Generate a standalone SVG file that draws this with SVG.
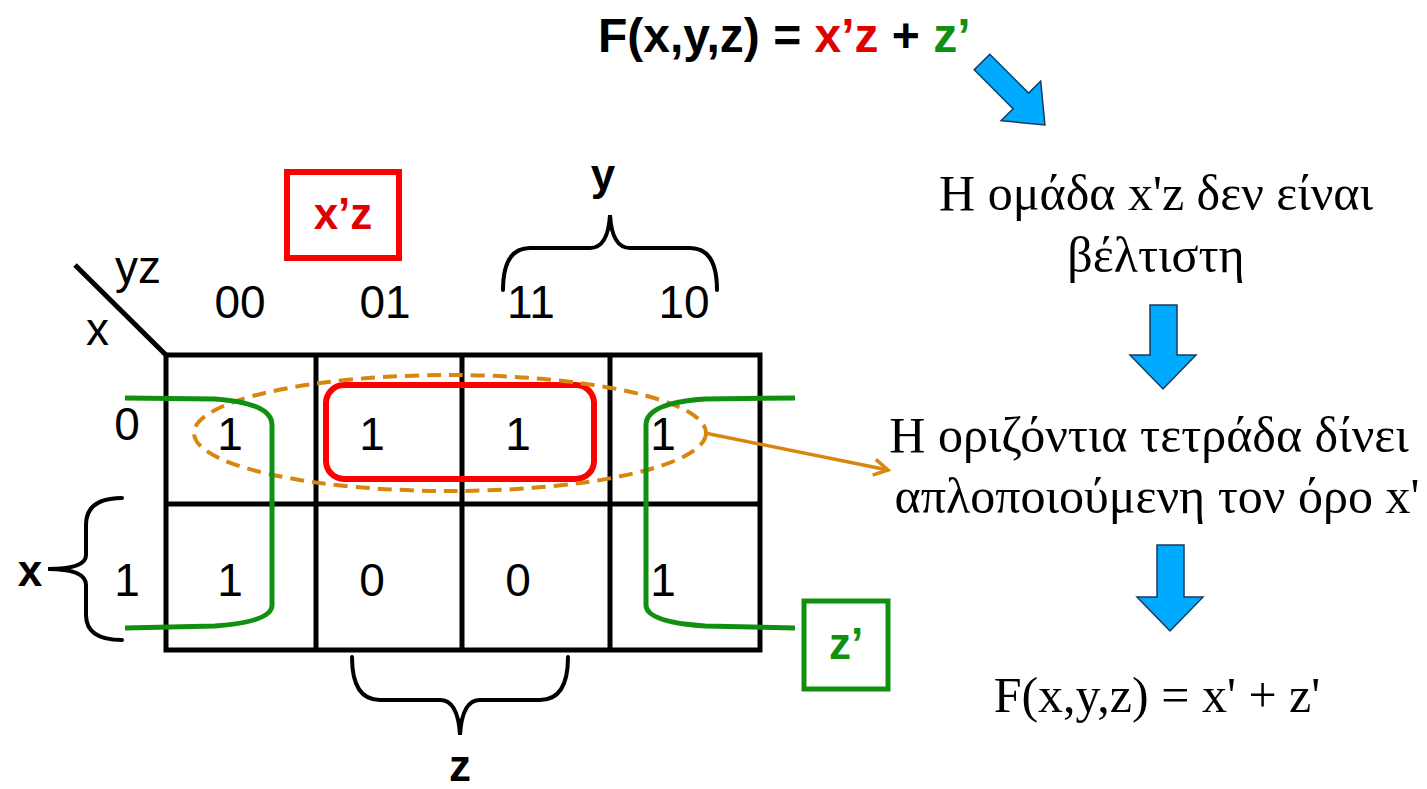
<svg xmlns="http://www.w3.org/2000/svg" width="1427" height="789" viewBox="0 0 1427 789">
<style>
.sans{font-family:"Liberation Sans",Arial,sans-serif;}
.serif{font-family:"Liberation Serif","Times New Roman",serif;font-size:50px;fill:#000;}
.lbl{font-size:46px;fill:#000;}
.bold{font-weight:bold;}
.grid{stroke:#000;stroke-width:5;fill:none;}
.brace{stroke:#000;stroke-width:4;fill:none;stroke-linecap:round;}
.green{stroke:#109010;stroke-width:5;fill:none;}
.blue{fill:#00AAFF;stroke:#1a3a5a;stroke-width:1.5;}
</style>
<defs>
<marker id="oarrow" viewBox="0 0 20 20" refX="16" refY="10" markerWidth="20" markerHeight="20" markerUnits="userSpaceOnUse" orient="auto">
<path d="M2,2 L16,10 L2,18" fill="none" stroke="#D9860F" stroke-width="3.5"/>
</marker>
</defs>
<rect width="1427" height="789" fill="#fff"/>

<g id="formula-top">
<text x="598" y="52" class="sans bold" font-size="48"><tspan fill="#000">F(x,y,z) = </tspan><tspan fill="#E00000">x’z</tspan><tspan fill="#000"> + </tspan><tspan fill="#109010">z’</tspan></text>
</g>

<g id="kmap">
<line x1="75" y1="265" x2="166" y2="355" class="grid"/>
<text x="115" y="283" class="sans lbl">yz</text>
<text x="86" y="345" class="sans lbl">x</text>
<rect x="166" y="355" width="594" height="295" class="grid"/>
<line x1="316" y1="355" x2="316" y2="650" class="grid"/>
<line x1="462" y1="355" x2="462" y2="650" class="grid"/>
<line x1="610" y1="355" x2="610" y2="650" class="grid"/>
<line x1="166" y1="504" x2="760" y2="504" class="grid"/>
<g class="sans lbl" text-anchor="middle">
<text x="240" y="318">00</text>
<text x="385" y="318">01</text>
<text x="531" y="318">11</text>
<text x="684" y="318">10</text>
<text x="127" y="440">0</text>
<text x="127" y="596">1</text>
<text x="230" y="450">1</text>
<text x="372" y="450">1</text>
<text x="518" y="450">1</text>
<text x="663" y="450">1</text>
<text x="230" y="596">1</text>
<text x="372" y="596">0</text>
<text x="518" y="596">0</text>
<text x="663" y="596">1</text>
</g>
</g>

<g id="group-xz">
<rect x="326" y="385" width="268" height="94" rx="18" fill="none" stroke="#FF0000" stroke-width="6"/>
</g>

<g id="group-xprime">
<ellipse cx="450" cy="433" rx="256" ry="58" fill="none" stroke="#D9860F" stroke-width="4" stroke-dasharray="14 8"/>
</g>

<g id="group-zprime">
<path d="M125,398 L215,399 Q272,403 272,425 L272,605 Q272,622 215,626 L125,628" class="green"/>
<path d="M795,398 L705,399 Q646,403 646,425 L646,605 Q646,622 705,626 L795,628" class="green"/>
</g>

<g id="label-xz">
<rect x="287" y="172" width="112" height="86" fill="none" stroke="#FF0000" stroke-width="6"/>
<text x="343" y="229" class="sans bold" font-size="44" fill="#E00000" text-anchor="middle">x’z</text>
</g>

<g id="label-zprime">
<rect x="804" y="601" width="84" height="88" fill="none" stroke="#109010" stroke-width="5"/>
<text x="846" y="659" class="sans bold" font-size="44" fill="#109010" text-anchor="middle">z’</text>
</g>

<g id="brace-y">
<path d="M503,290 Q503,248 530,248 L590,248 Q608,248 610,215 Q612,248 630,248 L690,248 Q717,248 717,290" class="brace"/>
<text x="603" y="190" class="sans bold" font-size="44" text-anchor="middle">y</text>
</g>

<g id="brace-z">
<path d="M352,657 Q352,700 380,700 L440,700 Q458,700 460,735 Q462,700 480,700 L540,700 Q568,700 568,657" class="brace"/>
<text x="460" y="781" class="sans bold" font-size="44" text-anchor="middle">z</text>
</g>

<g id="brace-x">
<path d="M122,498 Q86,498 86,525 L86,555 Q86,569 48,569 Q86,569 86,585 L86,615 Q86,640 122,640" class="brace"/>
<text x="30" y="586" class="sans bold" font-size="44" text-anchor="middle">x</text>
</g>

<g id="text-1">
<text x="1156" y="210" class="serif" text-anchor="middle">Η ομάδα x'z δεν είναι</text>
<text x="1156" y="272" class="serif" text-anchor="middle">βέλτιστη</text>
</g>

<g id="text-2">
<text x="1149" y="452" class="serif" text-anchor="middle">Η οριζόντια τετράδα δίνει</text>
<text x="1157" y="513" class="serif" text-anchor="middle">απλοποιούμενη τον όρο x'</text>
</g>

<g id="text-3">
<text x="1157" y="712" class="serif" text-anchor="middle">F(x,y,z) = x' + z'</text>
</g>

<g id="connectors">
<path class="blue" transform="translate(982,62) rotate(45)" d="M0,-11 L55,-11 L55,-28 L89,0 L55,28 L55,11 L0,11 Z"/>
<path class="blue" d="M1150,305 L1177,305 L1177,355 L1196,355 L1163,389 L1130,355 L1150,355 Z"/>
<path class="blue" d="M1157,545 L1184,545 L1184,597 L1203,597 L1170,631 L1137,597 L1157,597 Z"/>
<line x1="705" y1="433" x2="888" y2="470" stroke="#D9860F" stroke-width="3.5" marker-end="url(#oarrow)"/>
</g>
</svg>
